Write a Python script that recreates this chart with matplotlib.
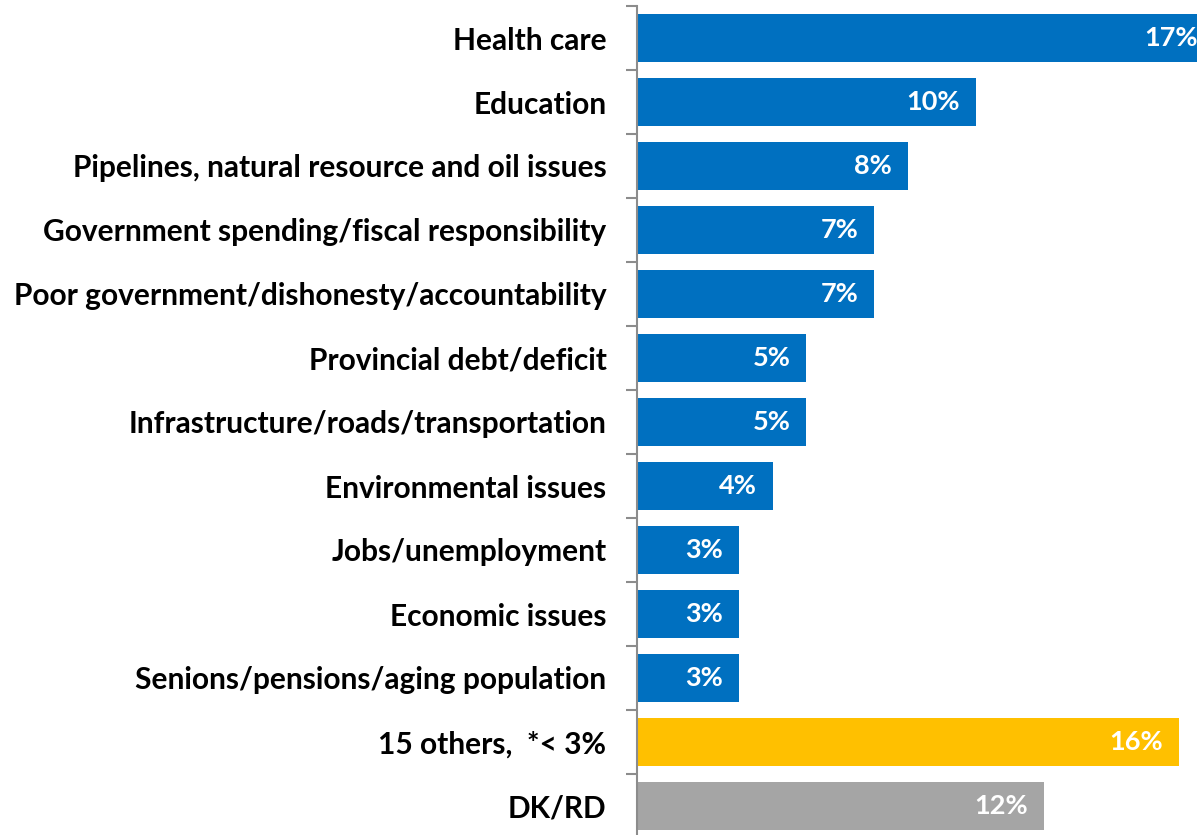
import matplotlib.pyplot as plt

# Data
categories = [
    'Health care',
    'Education',
    'Pipelines, natural resource and oil issues',
    'Government spending/fiscal responsibility',
    'Poor government/dishonesty/accountability',
    'Provincial debt/deficit',
    'Infrastructure/roads/transportation',
    'Environmental issues',
    'Jobs/unemployment',
    'Economic issues',
    'Senions/pensions/aging population',
    '15 others,  *< 3%',
    'DK/RD',
]
values = [17, 10, 8, 7, 7, 5, 5, 4, 3, 3, 3, 16, 12]
colors = ['#0070C0'] * 11 + ['#FFC000', '#A5A5A5']

plt.rcParams['font.family'] = ['Lato', 'DejaVu Sans']

fig = plt.figure(figsize=(11.97, 8.35), dpi=100)
ax = fig.add_axes([637 / 1197, -3 / 835, 1 - 637 / 1197, 832 / 835])

y = list(range(len(categories)))
ax.barh(y, values, height=0.75, color=colors, zorder=2)

for yi, v in zip(y, values):
    ax.annotate(f'{v}%', xy=(v, yi), xytext=(-11.5, 0), textcoords='offset points',
                ha='right', va='center', color='white', fontsize=19.5,
                fontweight='bold', annotation_clip=False)

ax.set_xlim(0, 16.52)
ax.set_ylim(len(categories) - 0.5, -0.5)

ax.set_yticks(y)
ax.set_yticklabels(categories, fontsize=21.5, fontweight='bold')
ax.set_yticks([i - 0.5 for i in range(len(categories) + 1)], minor=True)
ax.tick_params(axis='y', which='major', length=0, pad=22)
ax.tick_params(axis='y', which='minor', length=8, width=1.5, color='#8C8C8C')
ax.set_xticks([])

for s in ['top', 'right', 'bottom']:
    ax.spines[s].set_visible(False)
ax.spines['left'].set_color('#8C8C8C')
ax.spines['left'].set_linewidth(1.5)

fig.savefig('out.png', dpi=100)
